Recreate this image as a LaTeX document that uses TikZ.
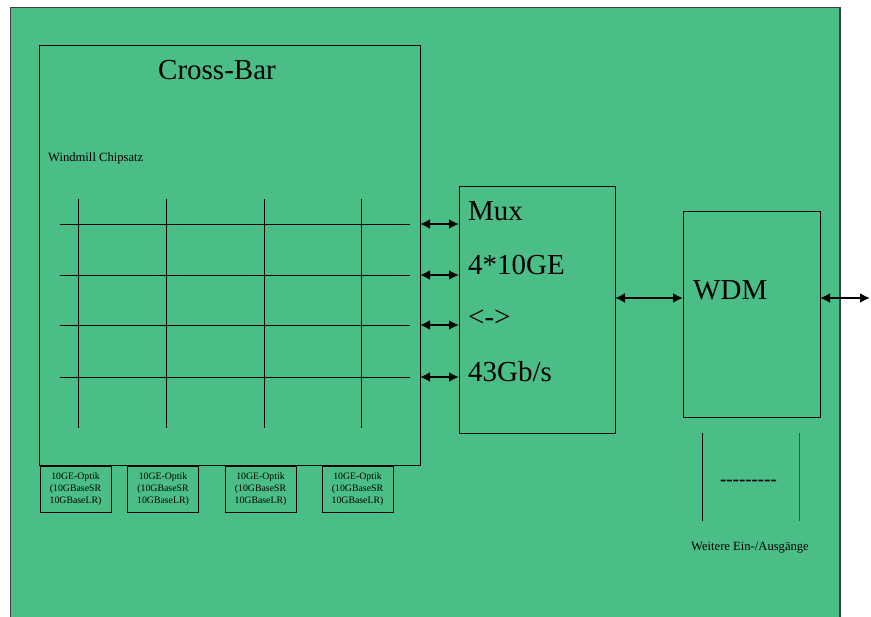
\documentclass[tikz,border=0pt]{standalone}
\usepackage{fontspec}
\setmainfont{Liberation Serif}
\usetikzlibrary{arrows.meta}
\definecolor{bggreen}{RGB}{75,189,135}
\tikzset{
  box/.style={draw=black, line width=0.9pt, fill=bggreen},
  grid/.style={draw=black, line width=0.8pt},
  link/.style={line width=2.6pt, {Latex[length=10pt,width=10pt]}-{Latex[length=10pt,width=10pt]}},
  big/.style={font=\fontsize{29}{32}\selectfont, inner sep=0pt, anchor=west},
  small/.style={font=\fontsize{12.6}{14}\selectfont, inner sep=0pt},
  optik/.style={draw=black, line width=0.9pt, minimum width=71pt, minimum height=46pt, inner sep=0pt, align=center, font=\fontsize{9.8}{12}\selectfont}
}
\begin{document}
\begin{tikzpicture}[x=1pt,y=-1pt]
\useasboundingbox (0,0) rectangle (871,617);
% outer frame
\fill[white] (0,0) rectangle (871,617);
\path[fill=bggreen] (10.5,7.5) rectangle (840,617);
\draw[draw=black!75, line width=1.2pt] (10.5,617) -- (10.5,7.5) -- (840,7.5) -- (840,617);
% cross-bar
\draw[box] (39.5,45.5) rectangle (420,465.5);
\node[font=\fontsize{29}{32}\selectfont, inner sep=0pt] (cb) at (217,70) {Cross-Bar};
\node[small, anchor=west] (wc) at (48,158) {Windmill Chipsatz};
% grid
\foreach \y in {224,275,325,377} { \draw[grid] (60,\y) -- (410,\y); }
\foreach \x in {78,166,264,361} { \draw[grid] (\x,199) -- (\x,428); }
% Mux
\node[box, minimum width=156pt, minimum height=247pt, inner sep=0pt] (mux) at (537,309.5) {};
\node[big] (t1) at (468,211) {Mux};
\node[big] (t2) at (468,265) {4*10GE};
\node[big] (t3) at (468,318) {<->};
\node[big] (t4) at (468,372) {43Gb/s};
% arrows from crossbar to mux
\foreach \y in {224,275,325,377} {
  \coordinate (l\y) at (420,\y);
  \coordinate (r\y) at (459,\y);
  \draw[link] (l\y) -- (r\y);
}
% WDM
\node[box, minimum width=137pt, minimum height=206pt, inner sep=0pt] (wdm) at (751.5,314) {};
\node[big] (tw) at (693,290) {WDM};
\coordinate (mr) at (615,298);
\coordinate (wl) at (683,298);
\draw[link] (mr) -- (wl);
\coordinate (wr) at (820,298);
\coordinate (out) at (870,298);
\draw[link] (wr) -- (out);
% further IO
\coordinate (a1) at (702,433); \coordinate (a2) at (702,521);
\coordinate (b1) at (799,433); \coordinate (b2) at (799,521);
\draw[line width=1pt] (a1) -- (a2);
\draw[line width=1pt, draw=black!70] (b1) -- (b2);
\node[font=\fontsize{19}{20}\selectfont\bfseries, inner sep=0pt] (dash) at (748.5,483) {-{}-{}-{}-{}-{}-{}-{}-{}-};
\node[small] (wa) at (750,548) {Weitere Ein-/Ausgänge};
% optik boxes
\node[optik] (o1) at (75.5,489) {10GE-Optik\\(10GBaseSR\\10GBaseLR)};
\node[optik] (o2) at (163,489) {10GE-Optik\\(10GBaseSR\\10GBaseLR)};
\node[optik] (o3) at (260.5,489) {10GE-Optik\\(10GBaseSR\\10GBaseLR)};
\node[optik] (o4) at (357.5,489) {10GE-Optik\\(10GBaseSR\\10GBaseLR)};
\end{tikzpicture}
\end{document}
